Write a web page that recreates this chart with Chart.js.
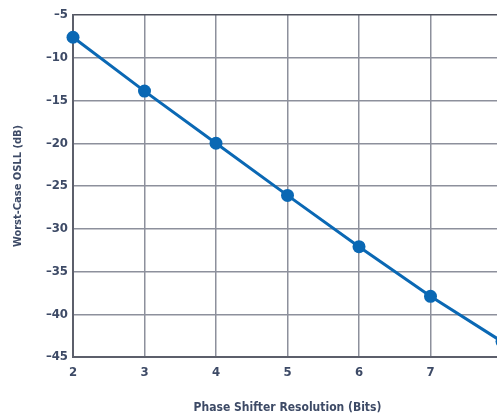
<!DOCTYPE html>
<html>
<head>
<meta charset="utf-8">
<script src="https://cdn.jsdelivr.net/npm/chart.js@4/dist/chart.umd.min.js"></script>
<style>
  html, body { margin: 0; padding: 0; background: #fff; overflow: hidden; }
  #wrap { width: 520px; height: 416px; }
</style>
</head>
<body>
<div id="wrap"><canvas id="osll"></canvas></div>
<script>
const bits = [2, 3, 4, 5, 6, 7, 8];
const osll = [-7.6, -13.9, -20, -26.1, -32.1, -37.9, -43.2];
const yTicks = [-5, -10, -15, -20, -25, -30, -35, -40, -45];

const labelColor = '#3d4a66';
const fontFamily = "'DejaVu Sans Condensed', 'Liberation Sans Narrow', 'Liberation Sans', sans-serif";
const tickFont = { family: fontFamily, size: 13, weight: 'bold' };

const ctx = document.querySelector('#osll');

const chart = new Chart(ctx, {
  type: 'line',
  data: {
    datasets: [{
      label: 'Worst-Case OSLL',
      data: bits.map((b, i) => ({ x: b, y: osll[i] })),
      borderColor: '#0a68b4',
      backgroundColor: '#0a68b4',
      borderWidth: 3,
      pointRadius: 6.5,
      pointBackgroundColor: '#0a68b4',
      pointBorderWidth: 0,
      clip: false,
      tension: 0
    }]
  },
  options: {
    responsive: true,
    maintainAspectRatio: false,
    animation: false,
    layout: { padding: { top: 15, right: 18, bottom: 0, left: 0 } },
    plugins: { legend: { display: false }, tooltip: { enabled: false } },
    scales: {
      x: {
        type: 'linear',
        min: 2,
        max: 8,
        afterFit: s => { s.height = 59; },
        grid: { color: '#8d909c', lineWidth: 1.5, drawTicks: false },
        border: { color: '#5c5f6b', width: 2 },
        ticks: { stepSize: 1, padding: 8, color: labelColor, font: tickFont },
        title: {
          display: true,
          text: 'Phase Shifter Resolution (Bits)',
          color: labelColor,
          font: { family: fontFamily, size: 12, weight: 'bold' },
          padding: { top: 0, bottom: 1 }
        }
      },
      y: {
        min: -45,
        max: -5,
        afterFit: s => { s.width = 73; },
        afterBuildTicks: s => { s.ticks = yTicks.map(v => ({ value: v })); },
        grid: {
          color: c => c.tick && c.tick.value === -5 ? '#4f525e' : '#8d909c',
          lineWidth: 1.5,
          drawTicks: false
        },
        border: { color: '#5c5f6b', width: 2 },
        ticks: {
          padding: 5,
          color: labelColor,
          font: tickFont,
          callback: v => String(v).replace('-', '\u2013')
        },
        title: {
          display: true,
          text: 'Worst-Case OSLL (dB)',
          color: labelColor,
          font: { family: fontFamily, size: 11, weight: 'bold' },
          padding: { top: 12, bottom: 0 }
        }
      }
    }
  }
});
</script>
</body>
</html>
